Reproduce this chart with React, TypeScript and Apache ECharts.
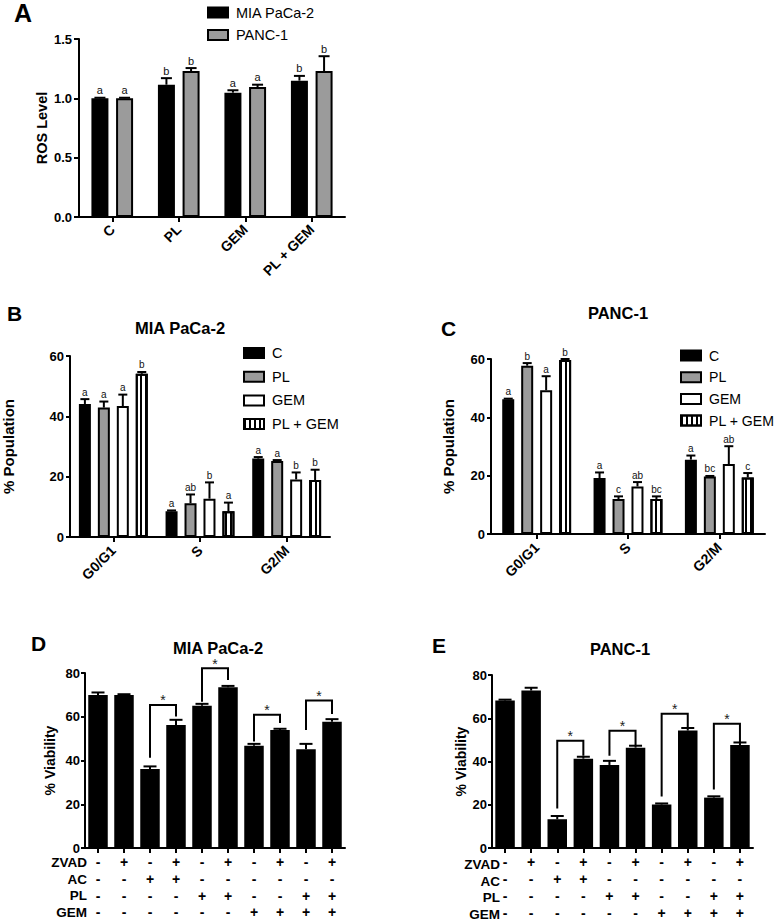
import React, { useEffect, useRef } from "react";
import * as echarts from "echarts";

const FONT = '"Liberation Sans", Arial, Helvetica, sans-serif';
const BLACK = "#000000";
const GRAY = "#9b9b9b";
const WHITE = "#ffffff";

// ---------- Panel A : ROS level ----------
const rosCategories = ["C", "PL", "GEM", "PL + GEM"];
const rosMia = [1.0, 1.115, 1.048, 1.149];
const rosMiaSem = [0.005, 0.055, 0.02, 0.04];
const rosMiaLetters = ["a", "b", "a", "b"];
const rosPanc = [1.0, 1.23, 1.095, 1.23];
const rosPancSem = [0.005, 0.025, 0.02, 0.125];
const rosPancLetters = ["a", "b", "a", "b"];

// ---------- Panels B & C : cell cycle ----------
const phases = ["G0/G1", "S", "G2/M"];
const treatments = ["C", "PL", "GEM", "PL + GEM"];

const miaC = [44.1, 8.5, 26.0];
const miaCSem = [1.6, 0.3, 0.5];
const miaCLetters = ["a", "a", "a"];
const miaPL = [42.9, 11.2, 25.2];
const miaPLSem = [2.0, 2.9, 0.3];
const miaPLLetters = ["a", "ab", "a"];
const miaGEM = [43.4, 12.7, 19.1];
const miaGEMSem = [3.8, 5.4, 2.3];
const miaGEMLetters = ["a", "b", "b"];
const miaPLGEM = [54.1, 8.5, 18.9];
const miaPLGEMSem = [0.6, 2.9, 3.4];
const miaPLGEMLetters = ["b", "a", "b"];

const pancC = [46.2, 19.2, 25.5];
const pancCSem = [0.2, 1.9, 1.4];
const pancCLetters = ["a", "a", "a"];
const pancPL = [57.7, 12.0, 19.7];
const pancPLSem = [0.9, 0.9, 0.2];
const pancPLLetters = ["b", "c", "bc"];
const pancGEM = [49.3, 16.3, 24.0];
const pancGEMSem = [4.8, 1.5, 6.1];
const pancGEMLetters = ["a", "ab", "ab"];
const pancPLGEM = [59.7, 12.0, 19.4];
const pancPLGEMSem = [0.3, 0.9, 1.5];
const pancPLGEMLetters = ["b", "bc", "c"];

// ---------- Panels D & E : viability ----------
const rowNames = ["ZVAD", "AC", "PL", "GEM"];
const zvad = ["-", "+", "-", "+", "-", "+", "-", "+", "-", "+"];
const ac = ["-", "-", "+", "+", "-", "-", "-", "-", "-", "-"];
const pl = ["-", "-", "-", "-", "+", "+", "-", "-", "+", "+"];
const gem = ["-", "-", "-", "-", "-", "-", "+", "+", "+", "+"];

const viaMia = [69.9, 70.0, 36.1, 56.2, 65.0, 73.5, 46.7, 54.0, 45.2, 57.7];
const viaMiaSem = [1.2, 0.3, 1.2, 2.4, 0.9, 0.6, 0.9, 0.5, 2.4, 1.2];
const viaPanc = [68.2, 72.8, 13.3, 41.3, 38.4, 46.4, 20.1, 54.3, 23.3, 47.6];
const viaPancSem = [0.4, 1.3, 1.5, 0.9, 1.9, 0.9, 0.5, 1.2, 0.6, 1.2];

// brackets: [leftBar, rightBar, leftStart, top, rightEnd]
const bracketsMia = [
  [2, 3, 41.3, 65.4, 60.1],
  [4, 5, 66.9, 82.2, 76.8],
  [6, 7, 48.7, 60.9, 57.2],
  [8, 9, 54.0, 67.4, 61.3],
];
const bracketsPanc = [
  [2, 3, 18.3, 49.6, 42.7],
  [4, 5, 42.7, 54.2, 47.3],
  [6, 7, 23.8, 62.1, 55.7],
  [8, 9, 27.1, 57.5, 48.8],
];

// ---------- layout ----------
const GRIDS = [
  { left: 79, top: 39, width: 266, height: 178 },
  { left: 59, top: 356, width: 271, height: 181 },
  { left: 491, top: 359, width: 274, height: 175 },
  { left: 85, top: 673, width: 260, height: 175 },
  { left: 492, top: 675, width: 261, height: 175 },
];
const TABLE_MARGIN = [6, 5.8];
const TABLE_LH = [16.7, 16.8];
const ROW_HEADER_RIGHT = [87, 500];

const stripeDecal = {
  symbol: "rect",
  symbolSize: 1,
  dashArrayX: [1.5, 3],
  dashArrayY: [10, 0],
  color: BLACK,
  backgroundColor: WHITE,
  rotation: 0,
};

const lineStyle = { color: BLACK, width: 2 };

function valueAxis(gi: number, max: number, interval: number, name: string, nameGap: number, margin: number, tickLen: number, decimals: number, nameSize: number) {
  return {
    type: "value",
    gridIndex: gi,
    min: 0,
    max,
    interval,
    name,
    nameLocation: "middle",
    nameGap,
    nameTextStyle: { fontFamily: FONT, fontSize: nameSize, fontWeight: "bold", color: BLACK },
    axisLine: { show: true, lineStyle },
    axisTick: { show: true, length: tickLen, lineStyle },
    axisLabel: {
      margin,
      fontFamily: FONT,
      fontSize: 13,
      fontWeight: "bold",
      color: BLACK,
      formatter: (v: number) => v.toFixed(decimals),
    },
    splitLine: { show: false },
  };
}

function catAxis(gi: number, data: string[], extra: any) {
  return {
    type: "category",
    gridIndex: gi,
    data,
    axisLine: { show: true, lineStyle },
    axisTick: { show: true, alignWithLabel: true, length: 5, lineStyle },
    axisLabel: Object.assign(
      { interval: 0, fontFamily: FONT, fontSize: 14, fontWeight: "bold", color: BLACK },
      extra
    ),
  };
}

function barSeries(name: string, gi: number, data: number[], fill: string, barWidth: number, barGap: string, border: number, decal?: any) {
  return {
    type: "bar",
    name,
    xAxisIndex: gi,
    yAxisIndex: gi,
    data,
    barWidth,
    barGap,
    silent: true,
    itemStyle: Object.assign(
      { color: fill, borderColor: BLACK, borderWidth: border },
      decal ? { decal } : {}
    ),
  };
}

function errorSeries(gi: number, values: number[], sems: number[], letters: string[] | null, offset: number, capW: number, letterSize: number) {
  return {
    type: "custom",
    xAxisIndex: gi,
    yAxisIndex: gi,
    z: 4,
    silent: true,
    clip: false,
    data: values.map((v, i) => [i, v, v + sems[i]]),
    renderItem: (params: any, api: any) => {
      const base = api.coord([api.value(0), api.value(1)]);
      const top = api.coord([api.value(0), api.value(2)]);
      const x = base[0] + offset;
      const children: any[] = [
        { type: "line", shape: { x1: x, y1: base[1], x2: x, y2: top[1] }, style: { stroke: BLACK, lineWidth: 2 } },
        { type: "line", shape: { x1: x - capW / 2, y1: top[1], x2: x + capW / 2, y2: top[1] }, style: { stroke: BLACK, lineWidth: 2 } },
      ];
      if (letters) {
        children.push({
          type: "text",
          x,
          y: top[1] - 2,
          style: {
            text: letters[params.dataIndex],
            fill: "#111",
            fontFamily: FONT,
            fontSize: letterSize,
            align: "center",
            verticalAlign: "bottom",
          },
        });
      }
      return { type: "group", children };
    },
  };
}

function bracketSeries(gi: number, brackets: number[][]) {
  return {
    type: "custom",
    xAxisIndex: gi,
    yAxisIndex: gi,
    z: 5,
    silent: true,
    clip: false,
    data: brackets,
    renderItem: (params: any, api: any) => {
      const l = api.value(0);
      const r = api.value(1);
      const a = api.coord([l, api.value(2)]);
      const b = api.coord([l, api.value(3)]);
      const c = api.coord([r, api.value(3)]);
      const d = api.coord([r, api.value(4)]);
      return {
        type: "group",
        children: [
          { type: "polyline", shape: { points: [a, b, c, d] }, style: { stroke: BLACK, lineWidth: 2, fill: null } },
          {
            type: "text",
            x: (b[0] + c[0]) / 2,
            y: b[1] - 4.5,
            style: { text: "*", fill: "#222", fontFamily: FONT, fontSize: 14, align: "center", verticalAlign: "middle" },
          },
        ],
      };
    },
  };
}

function offsets(n: number, w: number, gap: number) {
  const s = w * (1 + gap);
  return Array.from({ length: n }, (_, i) => (i - (n - 1) / 2) * s);
}

function buildOption() {
  const series: any[] = [];

  // Panel A
  const aW = 17, aGap = 0.45;
  const aOff = offsets(2, aW, aGap);
  series.push(barSeries("MIA PaCa-2", 0, rosMia, BLACK, aW, "45%", 2));
  series.push(barSeries("PANC-1", 0, rosPanc, GRAY, aW, "45%", 2));
  series.push(errorSeries(0, rosMia, rosMiaSem, rosMiaLetters, aOff[0], 11, 11));
  series.push(errorSeries(0, rosPanc, rosPancSem, rosPancLetters, aOff[1], 11, 11));

  // Panels B, C
  const fills = [BLACK, GRAY, WHITE, WHITE];
  const decals = [null, null, null, stripeDecal];
  const bW = 12, bGap = 0.58;
  const bOff = offsets(4, bW, bGap);
  const miaSets = [
    [miaC, miaCSem, miaCLetters],
    [miaPL, miaPLSem, miaPLLetters],
    [miaGEM, miaGEMSem, miaGEMLetters],
    [miaPLGEM, miaPLGEMSem, miaPLGEMLetters],
  ] as any[];
  const pancSets = [
    [pancC, pancCSem, pancCLetters],
    [pancPL, pancPLSem, pancPLLetters],
    [pancGEM, pancGEMSem, pancGEMLetters],
    [pancPLGEM, pancPLGEMSem, pancPLGEMLetters],
  ] as any[];
  [miaSets, pancSets].forEach((sets, k) => {
    const gi = k + 1;
    sets.forEach((s: any, i: number) => {
      series.push(barSeries(treatments[i], gi, s[0], fills[i], bW, "58%", 2, decals[i]));
    });
    sets.forEach((s: any, i: number) => {
      series.push(errorSeries(gi, s[0], s[1], s[2], bOff[i], 9, 10));
    });
  });

  // Panels D, E
  const vW = 19.5;
  series.push(barSeries("viaMia", 3, viaMia, BLACK, vW, "0%", 0));
  series.push(errorSeries(3, viaMia, viaMiaSem, null, 0, 13, 10));
  series.push(bracketSeries(3, bracketsMia));
  series.push(barSeries("viaPanc", 4, viaPanc, BLACK, vW, "0%", 0));
  series.push(errorSeries(4, viaPanc, viaPancSem, null, 0, 13, 10));
  series.push(bracketSeries(4, bracketsPanc));

  const tableFormatter = (_v: string, i: number) => [zvad[i], ac[i], pl[i], gem[i]].join("\n");
  const idx = zvad.map((_, i) => String(i + 1));

  const xAxis = [
    catAxis(0, rosCategories, { rotate: 45, margin: 10 }),
    catAxis(1, phases, { rotate: 45, margin: 11 }),
    catAxis(2, phases, { rotate: 45, margin: 11 }),
    catAxis(3, idx, { formatter: tableFormatter, margin: TABLE_MARGIN[0], lineHeight: TABLE_LH[0], fontSize: 14 }),
    catAxis(4, idx, { formatter: tableFormatter, margin: TABLE_MARGIN[1], lineHeight: TABLE_LH[1], fontSize: 14 }),
  ];
  const yAxis = [
    valueAxis(0, 1.5, 0.5, "ROS Level", 30, 7, 5, 1, 14.5),
    valueAxis(1, 60, 20, "% Population", 54, 6, 4, 0, 15),
    valueAxis(2, 60, 20, "% Population", 35, 6, 4, 0, 15),
    valueAxis(3, 80, 20, "% Viability", 28, 5, 4, 0, 14),
    valueAxis(4, 80, 20, "% Viability", 24, 5, 4, 0, 14),
  ];

  const legendBase = {
    orient: "vertical",
    icon: "rect",
    itemWidth: 20,
    itemHeight: 10,
    padding: 0,
    selectedMode: false,
  };
  const legendText = (size: number) => ({ fontFamily: FONT, fontSize: size, color: BLACK, padding: [0, 0, 0, 3] });
  const legend = [
    Object.assign({}, legendBase, { data: ["MIA PaCa-2", "PANC-1"], left: 207, top: 5, itemGap: 7.5, textStyle: legendText(14.5) }),
    Object.assign({}, legendBase, { data: treatments, left: 243, top: 345.5, itemGap: 8.7, textStyle: legendText(14.5) }),
    Object.assign({}, legendBase, { data: treatments, left: 680, top: 348.5, itemGap: 7.7, textStyle: legendText(14.1) }),
  ];

  const txt = (text: string, x: number, y: number, size: number, weight: string, align = "center") => ({
    type: "text",
    x,
    y,
    silent: true,
    style: { text, fill: BLACK, font: `${weight} ${size}px ${FONT}`, align, verticalAlign: "middle" },
  });

  const graphic: any[] = [
    txt("A", 14, 13, 25, "bold", "left"),
    txt("B", 7, 313, 21, "bold", "left"),
    txt("C", 441, 328, 21, "bold", "left"),
    txt("D", 31, 643, 21, "bold", "left"),
    txt("E", 432, 645, 21, "bold", "left"),
    txt("MIA PaCa-2", 180, 328, 16.5, "bold"),
    txt("PANC-1", 618, 313, 16.5, "bold"),
    txt("MIA PaCa-2", 218, 648, 16.5, "bold"),
    txt("PANC-1", 620, 649, 16.5, "bold"),
  ];
  // table row headers
  [3, 4].forEach((gi, k) => {
    const g = GRIDS[gi];
    const bottom = g.top + g.height;
    rowNames.forEach((n, i) => {
      graphic.push(txt(n, ROW_HEADER_RIGHT[k], bottom + TABLE_MARGIN[k] + TABLE_LH[k] * (i + 0.5), 13.5, "bold", "right"));
    });
  });

  return {
    animation: false,
    backgroundColor: WHITE,
    textStyle: { fontFamily: FONT },
    grid: GRIDS.map((g) => Object.assign({ containLabel: false }, g)),
    xAxis,
    yAxis,
    legend,
    series,
    graphic,
  };
}

export default function App() {
  const ref = useRef<HTMLDivElement>(null);
  useEffect(() => {
    if (!ref.current) return;
    const chart = echarts.init(ref.current, undefined, { renderer: "svg" });
    chart.setOption(buildOption() as any);
    return () => chart.dispose();
  }, []);
  return (
    <div
      ref={ref}
      style={{ position: "absolute", left: 0, top: 0, width: 779, height: 921, background: "#fff" }}
    />
  );
}
